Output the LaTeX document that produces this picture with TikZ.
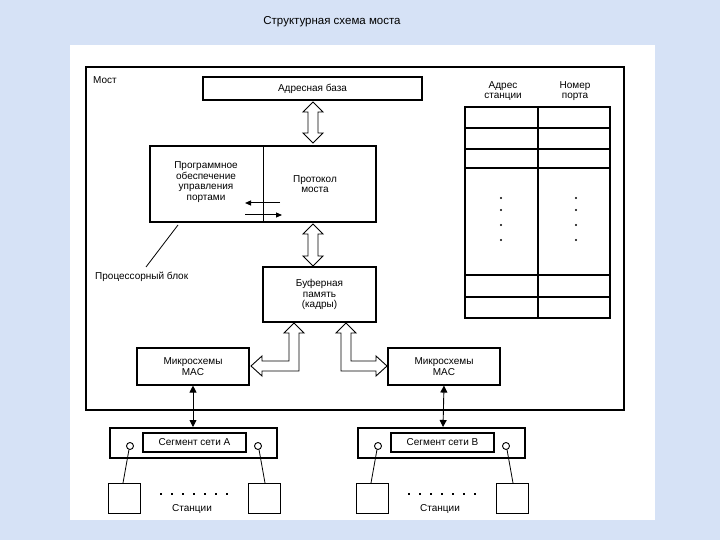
\documentclass[tikz,border=0pt]{standalone}
\usepackage{fontspec}
\setmainfont{Liberation Sans}
\usetikzlibrary{arrows.meta}
\definecolor{bg}{RGB}{214,226,246}
\begin{document}
\begin{tikzpicture}[x=1pt,y=-1pt,
  box/.style={draw, line width=1.1pt, inner sep=0pt, align=center, font=\fontsize{10}{10.5}\selectfont},
  txt/.style={inner sep=0pt, align=center, font=\fontsize{10}{10.5}\selectfont},
  hol/.style={draw, line width=0.9pt, fill=white},
  dbl/.style={line width=0.9pt, {Triangle[length=7pt,width=7pt]}-{Triangle[length=7pt,width=7pt]}}]
\fill[bg] (0,0) rectangle (720,540);
\fill[white] (70,45) rectangle (655,520);
\node[inner sep=0pt, font=\fontsize{11.5}{12}\selectfont] (title) at (332,22) {Структурная схема моста};
% bridge frame
\draw[line width=1.3pt] (86,67) rectangle (624,410);
\node[txt, anchor=west] (most) at (93,80) {Мост};
% boxes
\node[box, minimum width=219pt, minimum height=23pt] (adr) at (312.5,88.5) {Адресная база};
\node[box, minimum width=226pt, minimum height=76pt] (proc) at (263,184) {};
\draw[line width=0.9pt] (263,146) -- (263,222);
\node[txt] (prog) at (206,182) {Программное\\обеспечение\\управления\\портами};
\node[txt] (prot) at (315,184) {Протокол\\моста};
\coordinate (a1) at (280,203); \coordinate (a2) at (245,203);
\coordinate (b1) at (245,215); \coordinate (b2) at (282,215);
\draw[line width=1pt,-{Triangle[length=6pt,width=5pt]}] (a1) -- (a2);
\draw[line width=1pt,-{Triangle[length=6pt,width=5pt]}] (b1) -- (b2);
\coordinate (pl1) at (178,225); \coordinate (pl2) at (146,267);
\draw[line width=0.8pt] (pl1) -- (pl2);
\node[txt, anchor=west] (pblk) at (95,277) {Процессорный блок};
\node[box, minimum width=113pt, minimum height=55pt] (buf) at (319.5,294.5) {Буферная\\память\\(кадры)};
\node[box, minimum width=112pt, minimum height=37pt] (maca) at (193,366.5) {Микросхемы\\MAC};
\node[box, minimum width=112pt, minimum height=37pt] (macb) at (444,366.5) {Микросхемы\\MAC};
% hollow vertical double arrows
\draw[hol] (313,102) -- (323,112) -- (318,112) -- (318,133) -- (323,133) -- (313,143) -- (303,133) -- (308,133) -- (308,112) -- (303,112) -- cycle;
\draw[hol] (313,224) -- (323,234) -- (318,234) -- (318,256) -- (323,256) -- (313,266) -- (303,256) -- (308,256) -- (308,234) -- (303,234) -- cycle;
% L-shaped hollow arrows
\draw[hol] (294,323) -- (304,333) -- (299,333) -- (299,371) -- (262,371) -- (262,376) -- (251,366) -- (262,356) -- (262,361) -- (289,361) -- (289,333) -- (284,333) -- cycle;
\draw[hol] (346,323) -- (356,333) -- (351,333) -- (351,361) -- (376,361) -- (376,356) -- (387,366) -- (376,376) -- (376,371) -- (341,371) -- (341,333) -- (336,333) -- cycle;
% table
\node[txt] (h1) at (503,91) {Адрес\\станции};
\node[txt] (h2) at (575,91) {Номер\\порта};
\draw[line width=1.1pt] (465,107) rectangle (610,318);
\draw[line width=1.1pt] (538,107) -- (538,318);
\foreach \yy in {128,149,168,275,297} \draw[line width=1.1pt] (465,\yy) -- (610,\yy);
\foreach \yy in {198,210,225,240} {\fill (501,\yy) circle (1.2pt); \fill (576,\yy) circle (1.2pt);}
% segments
\foreach \sx/\nm/\lb in {110/sa/А,358/sb/B} {
  \draw[line width=1.1pt] (\sx,428) rectangle ++(167,30);
  \node[box, minimum width=103pt, minimum height=19pt] (\nm) at (\sx+84.5,442.5) {Сегмент сети \lb};
  \draw[line width=0.9pt] (\sx+20,446) circle (3.5pt);
  \draw[line width=0.9pt] (\sx+148,446) circle (3.5pt);
  \draw[line width=0.8pt] (\sx+19,449.5) -- (\sx+13,483);
  \draw[line width=0.8pt] (\sx+149,449.5) -- (\sx+155,483);
  \draw[line width=1pt] (\sx-2,483) rectangle ++(32,30);
  \draw[line width=1pt] (\sx+138,483) rectangle ++(32,30);
  \foreach \dx in {50,61,72,83,94,105,116} \fill (\sx+\dx,493) rectangle ++(2.2,2.2);
  \node[txt] at (\sx+82,509) {Станции};
}
\coordinate (sta) at (193,427); \coordinate (stb) at (443,427);
\draw[dbl] (maca.south) -- (sta);
\draw[dbl] (macb.south) -- (stb);
\end{tikzpicture}
\end{document}
